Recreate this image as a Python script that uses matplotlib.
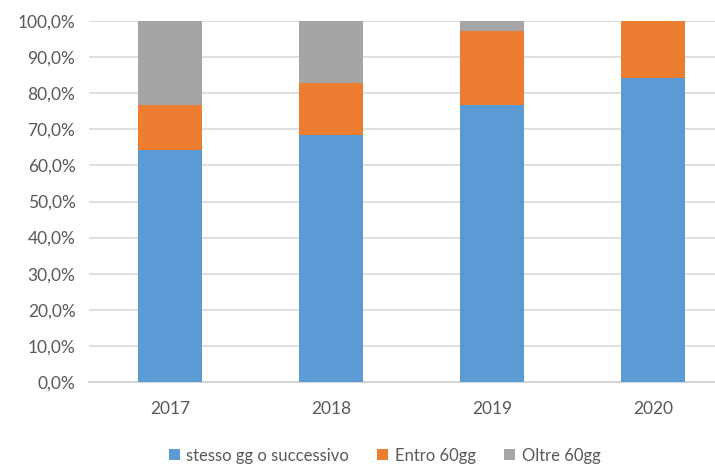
import matplotlib.pyplot as plt
from matplotlib.ticker import FuncFormatter

# valori (percentuali)
anni = ['2017', '2018', '2019', '2020']
stesso_gg = [64.3, 68.4, 76.8, 84.2]
entro_60 = [12.4, 14.4, 20.4, 15.8]
oltre_60 = [23.3, 17.2, 2.8, 0.0]

etichette = ['stesso gg o successivo', 'Entro 60gg', 'Oltre 60gg']
colori = ['#5B9BD5', '#ED7D31', '#A5A5A5']

plt.rcParams['font.family'] = ['Lato', 'DejaVu Sans']

fig = plt.figure(figsize=(7.15, 4.65), dpi=100)
ax = fig.add_axes([0.125, 0.1785, 0.9007, 0.7763])

x = range(len(anni))
base = [0.0] * len(anni)
for serie, lab, col in zip([stesso_gg, entro_60, oltre_60], etichette, colori):
    ax.bar(x, serie, bottom=base, width=0.40, color=col, label=lab, zorder=3)
    base = [b + v for b, v in zip(base, serie)]

ax.set_xlim(-0.5, 3.5)
ax.set_ylim(0, 100)
ax.set_yticks(range(0, 101, 10))
ax.yaxis.set_major_formatter(FuncFormatter(lambda v, p: f"{v:.1f}%".replace('.', ',')))
ax.set_xticks(list(x))
ax.set_xticklabels(anni)

ax.grid(axis='y', color='#d9d9d9', linewidth=1.2, zorder=0)
for s in ['top', 'right', 'left']:
    ax.spines[s].set_visible(False)
ax.spines['bottom'].set_color('#d0d0d0')
ax.spines['bottom'].set_linewidth(1.2)
ax.tick_params(axis='both', length=0, colors='#595959', labelsize=12.5)
ax.tick_params(axis='x', pad=14)
ax.tick_params(axis='y', pad=10)

fig.legend(loc='center', bbox_to_anchor=(0.538, 0.02), ncol=3, frameon=False,
           fontsize=12, labelcolor='#595959', handlelength=0.65, handleheight=0.65,
           handletextpad=0.4, columnspacing=1.7)

fig.savefig('out.png', dpi=100)
